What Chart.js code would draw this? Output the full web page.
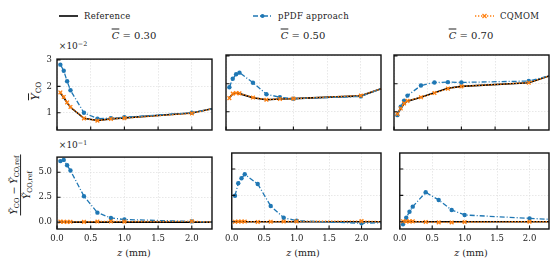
<!DOCTYPE html>
<html><head><meta charset="utf-8">
<script src="https://cdn.jsdelivr.net/npm/chart.js@4"></script>
<style>
body{margin:0;background:#fff;width:559px;height:268px;overflow:hidden;position:relative;font-family:"DejaVu Serif",serif;color:#222}
canvas{position:absolute}
.t{position:absolute;white-space:nowrap;transform:translate(-50%,-50%)}
.lg{position:absolute;font-size:8.5px;letter-spacing:0.3px;display:flex;align-items:center;white-space:nowrap}
.lg svg{margin-right:6px}
i{font-style:italic}
.ov{text-decoration:overline}
sub{font-size:70%;vertical-align:-0.3em;line-height:0}
sup{font-size:70%;vertical-align:0.45em;line-height:0}
</style></head><body>
<div class="lg" style="left:59px;top:11px"><svg width="19" height="10"><line x1="0" y1="5" x2="19" y2="5" stroke="#000" stroke-width="1.6"/></svg>Reference</div>
<div class="lg" style="left:253px;top:11px"><svg width="19" height="10"><line x1="0" y1="5" x2="19" y2="5" stroke="#1f77b4" stroke-width="1.3" stroke-dasharray="5,2,1,2"/><circle cx="9.5" cy="5" r="2" fill="#1f77b4"/></svg>pPDF approach</div>
<div class="lg" style="left:475px;top:11px"><svg width="19" height="10"><line x1="0" y1="5" x2="19" y2="5" stroke="#ff7f0e" stroke-width="1.3" stroke-dasharray="1.3,1.7"/><path d="M7.5 3L11.5 7M11.5 3L7.5 7" stroke="#ff7f0e" stroke-width="1.2"/></svg>CQMOM</div>

<div class="t" style="left:134px;top:35px;font-size:10px"><i class="ov">C</i> = 0.30</div>
<div class="t" style="left:303px;top:35px;font-size:10px"><i class="ov">C</i> = 0.50</div>
<div class="t" style="left:471px;top:35px;font-size:10px"><i class="ov">C</i> = 0.70</div>

<div class="t" style="left:73px;top:46px;font-size:9px">×10<sup>−2</sup></div>
<div class="t" style="left:73px;top:145px;font-size:9px">×10<sup>−1</sup></div>

<div class="t" style="left:134px;top:252px;font-size:9.5px"><i>z</i> (mm)</div>
<div class="t" style="left:303px;top:252px;font-size:9.5px"><i>z</i> (mm)</div>
<div class="t" style="left:471px;top:252px;font-size:9.5px"><i>z</i> (mm)</div>

<div class="t" style="left:35px;top:91px;font-size:10.5px;transform:translate(-50%,-50%) rotate(-90deg)"><i class="ov">Y</i><sub>CO</sub></div>
<div class="t" style="left:21px;top:185px;font-size:9.5px;transform:translate(-50%,-50%) rotate(-90deg);text-align:center;line-height:1.1">
<div style="border-bottom:0.8px solid #222;padding:0 1px 1px"><i>Ỹ</i><sub>CO</sub> − <i>Ỹ</i><sub>CO,ref</sub></div>
<div style="padding-top:1px"><i>Ỹ</i><sub>CO,ref</sub></div></div>

<canvas id="c1"></canvas><canvas id="c2"></canvas><canvas id="c3"></canvas>
<canvas id="c4"></canvas><canvas id="c5"></canvas><canvas id="c6"></canvas>
<script>
// axial positions z (mm)
const z = [0.05, 0.1, 0.15, 0.2, 0.4, 0.6, 0.8, 1.0, 2.0, 2.3];
// mean CO mass fraction (x 1e-2)
const ref30  = [1.75, 1.58, 1.38, 1.21, 0.79, 0.71, 0.77, 0.81, 0.99, 1.15];
const ppdf30 = [2.82, 2.59, 2.19, 1.85, 1.00, 0.78, 0.80, 0.83, 1.00, 1.15];
const cq30   = [1.77, 1.60, 1.39, 1.22, 0.79, 0.70, 0.77, 0.80, 0.98, 1.15];
const ref50  = [1.50, 1.64, 1.67, 1.65, 1.50, 1.43, 1.46, 1.47, 1.57, 1.82];
const ppdf50 = [1.88, 2.18, 2.34, 2.40, 2.04, 1.63, 1.52, 1.47, 1.55, 1.82];
const cq50   = [1.49, 1.65, 1.67, 1.66, 1.51, 1.43, 1.46, 1.47, 1.58, 1.82];
const ref70  = [0.93, 1.12, 1.29, 1.38, 1.52, 1.68, 1.84, 1.91, 2.04, 2.28];
const ppdf70 = [0.88, 1.18, 1.40, 1.58, 1.94, 2.05, 2.06, 2.05, 2.10, 2.28];
const cq70   = [0.92, 1.12, 1.30, 1.39, 1.52, 1.67, 1.83, 1.91, 2.04, 2.28];
// relative error (x 1e-1)
const errRef   = [0, 0, 0, 0, 0, 0, 0, 0, 0, 0];
const errP30   = [6.12, 6.24, 5.70, 5.17, 2.60, 0.95, 0.42, 0.26, 0.07, 0.00];
const errQ30   = [0.05, 0.03, 0.02, 0.03, 0.02, 0.06, 0.07, 0.05, 0.08, 0.00];
const errP50   = [2.47, 3.65, 4.12, 4.50, 3.58, 1.49, 0.38, 0.10, -0.15, -0.10];
const errQ50   = [0.00, 0.02, 0.02, 0.02, -0.02, 0.00, 0.02, 0.03, 0.06, 0.00];
const errP70   = [-0.25, 0.38, 0.95, 1.43, 2.79, 2.06, 1.11, 0.64, 0.32, 0.23];
const errQ70   = [0.05, 0.03, 0.03, 0.03, -0.02, -0.06, -0.07, -0.03, 0.00, 0.00];
// axis ticks
const xTicks = [0, 0.5, 1.0, 1.5, 2.0];
const yTopTicks = [1, 2, 3];
const yBotTicks = [0, 2.5, 5.0];

const TICKFONT = {family:'"DejaVu Serif", serif', size: 8.5};
const pts = arr => z.map((x,i)=>({x, y: arr[i]}));
const lastHidden = (r) => z.map((_,i)=> i===z.length-1 ? 0 : r);

const framePlugin = {
  id:'frame',
  afterDraw(chart){
    const {ctx, chartArea:a, scales} = chart;
    ctx.save();
    ctx.strokeStyle='#111'; ctx.lineWidth=1.1;
    ctx.beginPath();
    scales.x.ticks.forEach(t=>{const px=scales.x.getPixelForValue(t.value); ctx.moveTo(px,a.bottom); ctx.lineTo(px,a.bottom-3.5);});
    scales.y.ticks.forEach(t=>{const py=scales.y.getPixelForValue(t.value); ctx.moveTo(a.left,py); ctx.lineTo(a.left+3.5,py);});
    ctx.stroke();
    ctx.lineWidth=1.4;
    ctx.strokeRect(a.left, a.top, a.right-a.left, a.bottom-a.top);
    ctx.restore();
  }
};

function panel(id, left, top, width, height, padL, refArr, pArr, qArr, yMin, yMax, yTicks, showX, showY, fmtY){
  const padT=6, padR=6, padB=22;
  const c = document.getElementById(id);
  const W = width+padL+padR, H = height+padT+padB;
  c.width=W; c.height=H; c.style.left=(left-padL)+'px'; c.style.top=(top-padT)+'px';
  c.style.width=W+'px'; c.style.height=H+'px';
  new Chart(c, {
    type:'line',
    data:{datasets:[
      {data:pts(qArr), borderColor:'#ff7f0e', backgroundColor:'#ff7f0e', borderWidth:1.4, borderDash:[1.4,1.7],
       pointStyle:'crossRot', pointRadius:lastHidden(2.6), pointBorderWidth:1.3, order:0, clip:1},
      {data:pts(pArr), borderColor:'#1f77b4', backgroundColor:'#1f77b4', borderWidth:1.3, borderDash:[5,2,1,2],
       pointStyle:'circle', pointRadius:lastHidden(2.2), pointBorderWidth:0, order:1, clip:1},
      {data:pts(refArr), borderColor:'#000', borderWidth:1.6, pointRadius:0, order:2, clip:1}
    ]},
    options:{
      responsive:false, animation:false, devicePixelRatio:1,
      layout:{padding:{top:padT, right:padR, left:0, bottom:0}, autoPadding:false},
      plugins:{legend:{display:false}, tooltip:{enabled:false}},
      elements:{line:{tension:0}},
      scales:{
        x:{type:'linear', min:0, max:2.3,
           afterFit(s){s.height=padB;},
           afterBuildTicks(s){s.ticks = xTicks.map(v=>({value:v}));},
           ticks:{display:showX, padding:5, font:TICKFONT, color:'#222', callback:v=>v.toFixed(1), maxRotation:0, autoSkip:false},
           grid:{color:'#dedede', lineWidth:0.7, drawTicks:false},
           border:{display:false, dash:[1.5,1.5]}},
        y:{type:'linear', min:yMin, max:yMax,
           afterFit(s){s.width=padL;},
           afterBuildTicks(s){s.ticks = yTicks.map(v=>({value:v}));},
           ticks:{display:showY, padding:5, font:TICKFONT, color:'#222', callback:fmtY, autoSkip:false},
           grid:{color:'#dedede', lineWidth:0.7, drawTicks:false},
           border:{display:false, dash:[1.5,1.5]}}
      }
    },
    plugins:[framePlugin]
  });
}
const fInt = v=>String(v);
const f1 = v=>v.toFixed(1);
const tTop=55, hTop=75, tBot=153, hBot=76;
panel('c1', 57, tTop, 155, hTop, 57, ref30, ppdf30, cq30, 0.35, 3.03, yTopTicks, false, true, fInt);
panel('c2', 226, tTop, 155, hTop, 6, ref50, ppdf50, cq50, 0.35, 3.03, yTopTicks, false, false, fInt);
panel('c3', 394, tTop, 155, hTop, 6, ref70, ppdf70, cq70, 0.35, 3.03, yTopTicks, false, false, fInt);
panel('c4', 57, tBot, 155, hBot, 57, errRef, errP30, errQ30, -0.69, 6.52, yBotTicks, true, true, f1);
panel('c5', 226, tBot, 155, hBot, 6, errRef, errP50, errQ50, -0.69, 6.52, yBotTicks, true, false, f1);
panel('c6', 394, tBot, 155, hBot, 6, errRef, errP70, errQ70, -0.69, 6.52, yBotTicks, true, false, f1);
</script>
</body></html>
